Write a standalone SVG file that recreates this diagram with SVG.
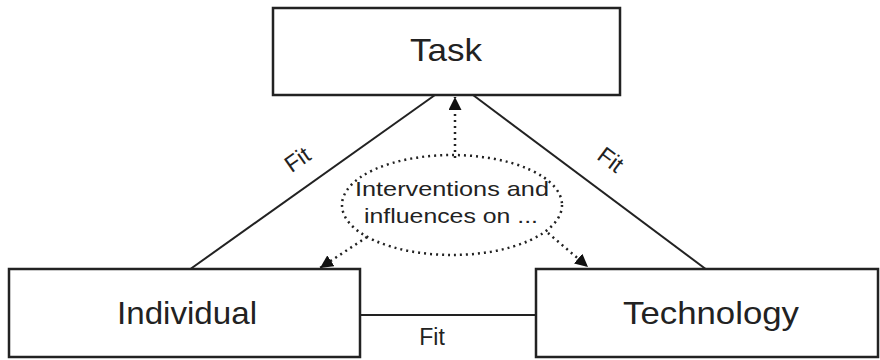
<svg xmlns="http://www.w3.org/2000/svg" width="880" height="360" viewBox="0 0 880 360">
<style>
.box{fill:#fff;stroke:#222;stroke-width:2.5}
.lbl{font-family:"Liberation Sans",Arial,sans-serif;fill:#222;text-anchor:middle}
.big{font-size:32px}
.fit{font-size:23px}
.small{font-size:21px}
.ln{stroke:#222;stroke-width:2;fill:none}
.dot{stroke:#222;stroke-width:2.5;fill:none;stroke-dasharray:2 4}
</style>
<defs>
<marker id="ah" viewBox="0 0 12 12" refX="12" refY="6" markerWidth="13" markerHeight="13" markerUnits="userSpaceOnUse" orient="auto">
<path d="M0,0 L12,6 L0,12 Z" fill="#111"/>
</marker>
</defs>
<rect width="880" height="360" fill="#fff"/>
<g id="connectors">
<line class="ln" x1="435" y1="95" x2="189" y2="270"/>
<line class="ln" x1="473" y1="95" x2="707" y2="270"/>
<line class="ln" x1="360" y1="315" x2="536" y2="315"/>
<line class="dot" x1="455" y1="158" x2="455" y2="97" marker-end="url(#ah)"/>
<line class="dot" x1="367" y1="237" x2="320" y2="268" marker-end="url(#ah)"/>
<line class="dot" x1="548" y1="233" x2="588" y2="267" marker-end="url(#ah)"/>
<text class="lbl fit" transform="translate(302,166) rotate(-35)">Fit</text>
<text class="lbl fit" transform="translate(606,166) rotate(37)">Fit</text>
<text class="lbl fit" x="432" y="345">Fit</text>
</g>
<g id="task">
<rect class="box" x="273" y="8" width="347" height="87"/>
<text class="lbl big" x="446" y="61" textLength="72" lengthAdjust="spacingAndGlyphs">Task</text>
</g>
<g id="individual">
<rect class="box" x="9" y="269" width="351" height="88"/>
<text class="lbl big" x="187" y="324" textLength="140" lengthAdjust="spacingAndGlyphs">Individual</text>
</g>
<g id="technology">
<rect class="box" x="536" y="269" width="342" height="88"/>
<text class="lbl big" x="711" y="324" textLength="176" lengthAdjust="spacingAndGlyphs">Technology</text>
</g>
<g id="interventions">
<ellipse class="dot" cx="452" cy="205" rx="110" ry="50"/>
<text class="lbl small" x="452" y="196" textLength="194" lengthAdjust="spacingAndGlyphs">Interventions and</text>
<text class="lbl small" x="451" y="223" textLength="174" lengthAdjust="spacingAndGlyphs">influences on ...</text>
</g>
</svg>
